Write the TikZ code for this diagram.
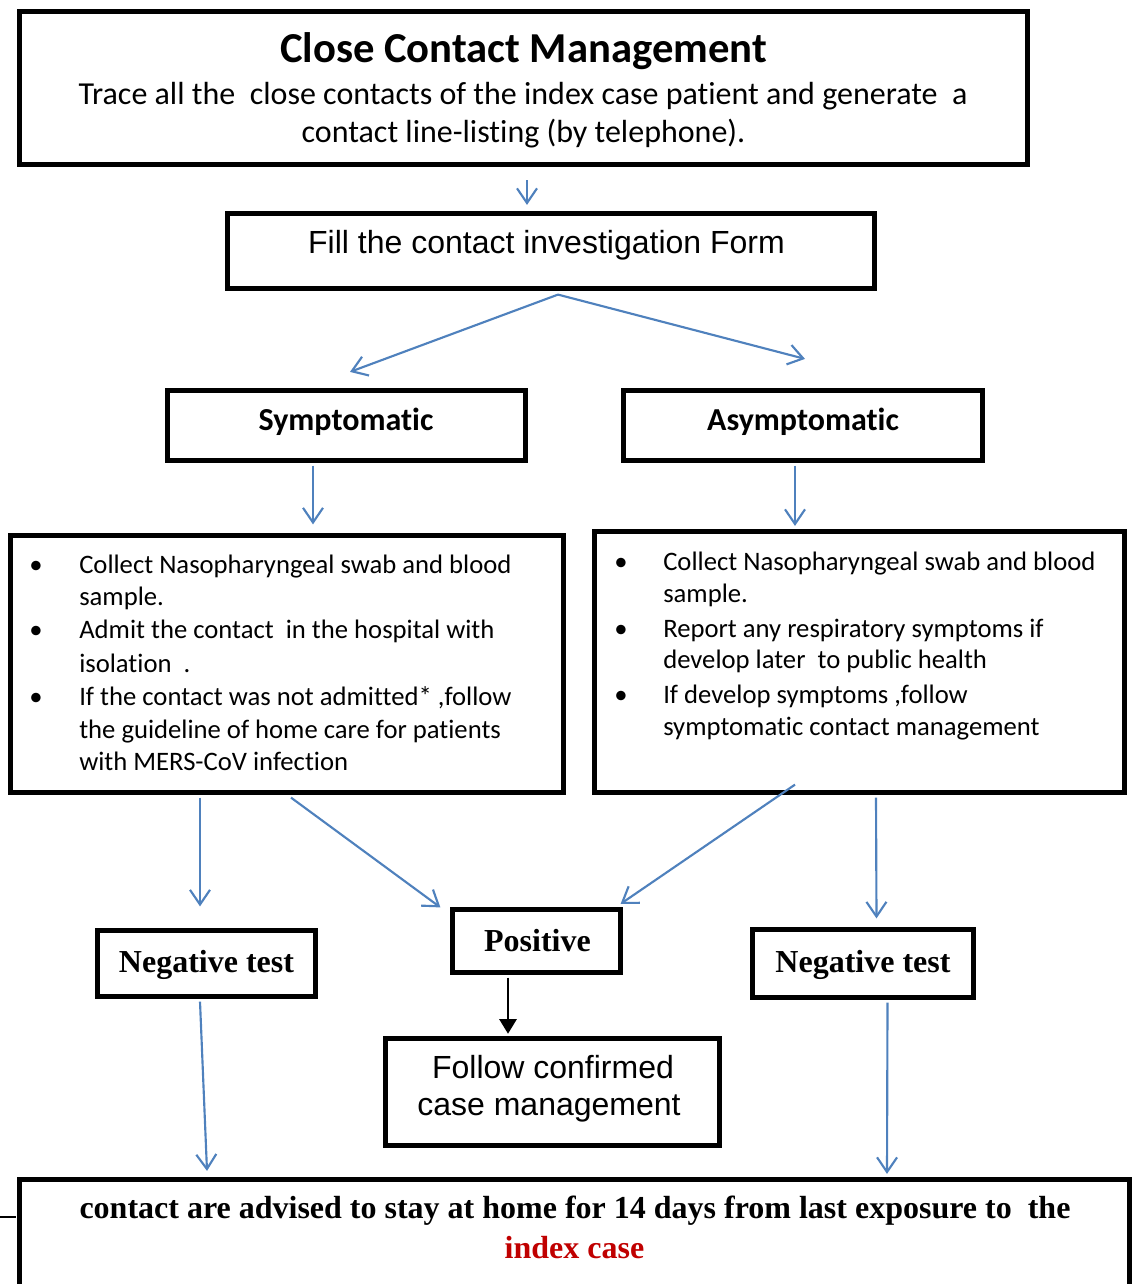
\documentclass[tikz,border=0pt]{standalone}
\usepackage{fontspec}
\setmainfont{Carlito}[Ligatures=NoCommon]
\newfontfamily\arialfont{Liberation Sans}
\newfontfamily\timesfont{Liberation Serif}
\usetikzlibrary{arrows.meta,calc,fit}
\definecolor{flowblue}{HTML}{4F81BD}
\definecolor{casered}{HTML}{C00000}
\begin{document}
\begin{tikzpicture}[x=0.75pt,y=-0.75pt,
  box/.style={draw=black,line width=3.9pt,inner sep=0pt},
  thinbox/.style={draw=black,line width=3.4pt,inner sep=0pt},
  flow/.style={draw=flowblue,line width=1.6pt,
    -{Straight Barb[length=11pt,width=15pt,line width=1.6pt]}},
  solidflow/.style={draw=black,line width=1.5pt,-{Triangle[length=11pt,width=13pt]}},
  txt/.style={anchor=base,inner sep=0pt},
  listline/.style={anchor=base west,inner sep=0pt,font=\fontsize{20}{24}\selectfont},
  dot/.style={anchor=base,inner sep=0pt,font=\fontsize{20}{24}\selectfont},
  headfont/.style={font=\bfseries\fontsize{32}{38}\selectfont},
  bodyfont/.style={font=\fontsize{24}{29}\selectfont},
  arialbig/.style={font=\arialfont\fontsize{24}{28}\selectfont},
  arialmid/.style={font=\arialfont\fontsize{24}{28}\selectfont},
  boldlabel/.style={font=\bfseries\fontsize{24}{28}\selectfont},
  timesbold/.style={font=\timesfont\bfseries\fontsize{24}{28}\selectfont}]

\useasboundingbox (0,0) rectangle (1133,1284);
\clip (0,0) rectangle (1133,1284);

% ---------- boxes ----------
\node[box,fit={(19.5,11.5) (1027.5,164.5)}] (top) {};
\node[box,fit={(227.5,213.5) (874.5,288.5)}] (form) {};
\node[box,fit={(167.5,390.5) (525.5,460.5)}] (sympt) {};
\node[box,fit={(623.5,390.5) (982.5,460.5)}] (asympt) {};
\node[box,fit={(10.5,535.5) (563.5,792.5)}] (slist) {};
\node[box,fit={(594.5,531.5) (1124.5,792.5)}] (alist) {};
\node[box,fit={(97.5,930.5) (315.5,996.5)}] (negl) {};
\node[box,fit={(452.5,909.5) (620.5,972.5)}] (pos) {};
\node[box,fit={(752.5,929.5) (973.5,997.5)}] (negr) {};
\node[thinbox,fit={(385.5,1038.5) (719.5,1145.5)}] (follow) {};
\node[box,fit={(19.5,1179.5) (1129.5,1340)}] (home) {};

% ---------- texts ----------
\node[txt,headfont] (titletext) at (523.5,63) {Close Contact Management};
\node[txt,bodyfont] (trace1) at (523,105) {Trace all the~ close contacts of the index case patient and generate~ a};
\node[txt,bodyfont] (trace2) at (523.5,143) {contact line-listing (by telephone).};

\node[txt,arialbig] (formtext) at (546.5,253) {Fill the contact investigation Form};
\node[txt,boldlabel] (symtext) at (346,430) {Symptomatic};
\node[txt,boldlabel] (asymtext) at (803,430) {Asymptomatic};

% symptomatic actions
\node[dot] (sb1) at (36,573) {•};
\node[dot] (sb2) at (36,638) {•};
\node[dot] (sb3) at (36,705) {•};
\node[listline] (s1) at (79,573) {Collect Nasopharyngeal swab and blood};
\node[listline] (s2) at (79,605) {sample.};
\node[listline] (s3) at (79,638) {Admit the contact~ in the hospital with};
\node[listline] (s4) at (79,672) {isolation~ .};
\node[listline] (s5) at (79,705) {If the contact was not admitted* ,follow};
\node[listline] (s6) at (79,738) {the guideline of home care for patients};
\node[listline] (s7) at (79,770) {with MERS-CoV infection};

% asymptomatic actions
\node[dot] (ab1) at (621,570) {•};
\node[dot] (ab2) at (621,637) {•};
\node[dot] (ab3) at (621,703) {•};
\node[listline] (a1) at (663,570) {Collect Nasopharyngeal swab and blood};
\node[listline] (a2) at (663,602) {sample.};
\node[listline] (a3) at (663,637) {Report any respiratory symptoms if};
\node[listline] (a4) at (663,668) {develop later~ to public health};
\node[listline] (a5) at (663,703) {If develop symptoms ,follow};
\node[listline] (a6) at (663,735) {symptomatic contact management};

\node[txt,timesbold] (negltext) at (206.5,972) {Negative test};
\node[txt,timesbold] (postext) at (537.5,951) {Positive};
\node[txt,timesbold] (negrtext) at (863,972) {Negative test};

\node[txt,arialmid] (follow1) at (553,1078) {Follow confirmed};
\node[txt,arialmid] (follow2) at (549,1115) {case management};

\node[txt,timesbold] (home1) at (575,1218) {contact are advised to stay at home for 14 days from last exposure to~ the};
\node[txt,timesbold,text=casered] (home2) at (574.5,1258) {index case};

% ---------- connectors ----------
\draw[flow] ($(top.south)+(3.5,13)$) -- ($(form.north)+(-24,-6)$);
\draw[flow] ($(form.south)+(7,3.5)$) -- ($(sympt.north)+(3.5,-16)$);
\draw[flow] ($(form.south)+(7,3.5)$) -- ($(asympt.north)+(2,-29)$);
\draw[flow] ($(sympt.south)+(-33.5,2.5)$) -- ($(slist.north)+(26,-8.5)$);
\draw[flow] ($(asympt.south)+(-8,2.5)$) -- ($(alist.north)+(-64.5,-3)$);
\draw[flow] ($(slist.south)+(-87,2.5)$) -- ($(negl.north)+(-6.5,-21.5)$);
\draw[flow] ($(slist.south)+(4,2.5)$) -- ($(pos.north west)+(-9.5,0.5)$);
\draw[flow] ($(alist.south)+(-64.5,-10.5)$) -- ($(pos.north east)+(-2.5,-3)$);
\draw[flow] ($(alist.south)+(16.5,2.5)$) -- ($(negr.north)+(13.5,-8.5)$);
\draw[solidflow] ($(pos.south)+(-28.5,2.5)$) -- ($(follow.north)+(-44.5,-2.5)$);
\draw[flow] ($(negl.south)+(-6.5,2.5)$) -- ($(home.north)+(-367.5,-6)$);
\draw[flow] ($(negr.south)+(24.5,2.5)$) -- ($(home.north)+(312.5,-3)$);

% short rule at the left margin
\coordinate (stub) at (0,1217);
\draw[line width=1.5pt] (stub) -- ($(stub)+(16,0)$);
\end{tikzpicture}
\end{document}
